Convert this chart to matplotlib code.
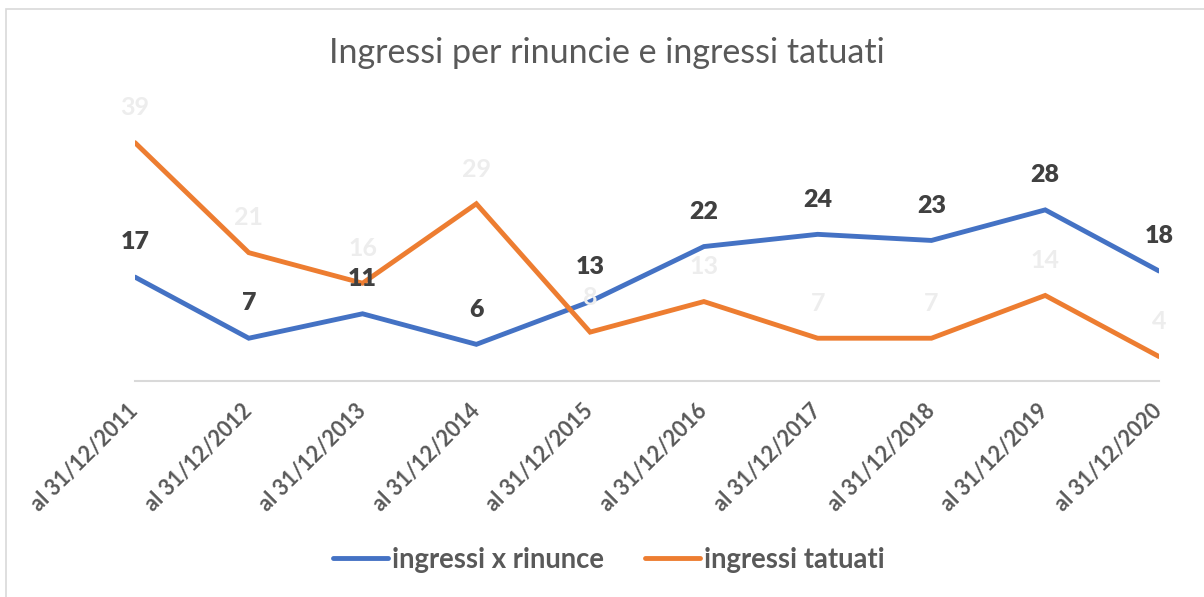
import matplotlib.pyplot as plt
from matplotlib.lines import Line2D
from matplotlib.patches import Rectangle

plt.rcParams['font.family'] = ['Lato', 'DejaVu Sans']

# data
categories = ["al 31/12/2011", "al 31/12/2012", "al 31/12/2013", "al 31/12/2014",
              "al 31/12/2015", "al 31/12/2016", "al 31/12/2017", "al 31/12/2018",
              "al 31/12/2019", "al 31/12/2020"]
rinunce = [17, 7, 11, 6, 13, 22, 24, 23, 28, 18]
tatuati = [39, 21, 16, 29, 8, 13, 7, 7, 14, 4]

blue = "#4472C4"
orange = "#ED7D31"

fig = plt.figure(figsize=(12.04, 5.97), dpi=100)
ax = fig.add_axes([135 / 1204, 216 / 597, 1024 / 1204, 275 / 597])

x = list(range(len(categories)))
ax.plot(x, rinunce, color=blue, lw=3.5, solid_capstyle="round", solid_joinstyle="miter", zorder=3)
ax.plot(x, tatuati, color=orange, lw=3.5, solid_capstyle="round", solid_joinstyle="miter", zorder=3)

# data labels
for xi, v in zip(x, tatuati):
    ax.annotate(str(v), (xi, v), xytext=(0, 25), textcoords="offset points",
                ha="center", va="center", fontsize=18, fontweight="bold", color="#EDEDED", zorder=4)
for xi, v in zip(x, rinunce):
    ax.annotate(str(v), (xi, v), xytext=(0, 25), textcoords="offset points",
                ha="center", va="center", fontsize=18, fontweight="heavy", color="#404040", zorder=5)

ax.set_xlim(0, 9)
ax.set_ylim(0, 45)
ax.set_yticks([])
ax.set_xticks(x)
ax.set_xticklabels(categories, rotation=45, ha="right", va="center", rotation_mode="anchor",
                   fontsize=15.5, fontweight="bold", color="#595959")
ax.tick_params(axis="x", length=0, pad=19)
for s in ["top", "right", "left"]:
    ax.spines[s].set_visible(False)
ax.spines["bottom"].set_color("#D9D9D9")
ax.spines["bottom"].set_linewidth(1.5)

fig.text(607 / 1204, 1 - 53 / 597, "Ingressi per rinuncie e ingressi tatuati",
         ha="center", va="center", fontsize=24.5, color="#595959")

# chart border
fig.patches.append(Rectangle((6 / 1204, -0.05), 1.1, 1 - 9 / 597 + 0.05, transform=fig.transFigure,
                             fill=False, edgecolor="#D9D9D9", lw=1.2))

handles = [Line2D([], [], color=blue, lw=3.5, solid_capstyle="round"),
           Line2D([], [], color=orange, lw=3.5, solid_capstyle="round")]
leg = fig.legend(handles, ["ingressi x rinunce", "ingressi tatuati"], loc="center",
                 bbox_to_anchor=(609 / 1204, 1 - 560 / 597), ncol=2, frameon=False,
                 handlelength=2.0, handletextpad=0.15, columnspacing=1.5,
                 prop={"size": 19.8, "weight": "bold"})
for t in leg.get_texts():
    t.set_color("#595959")

fig.savefig("out.png", dpi=100)
